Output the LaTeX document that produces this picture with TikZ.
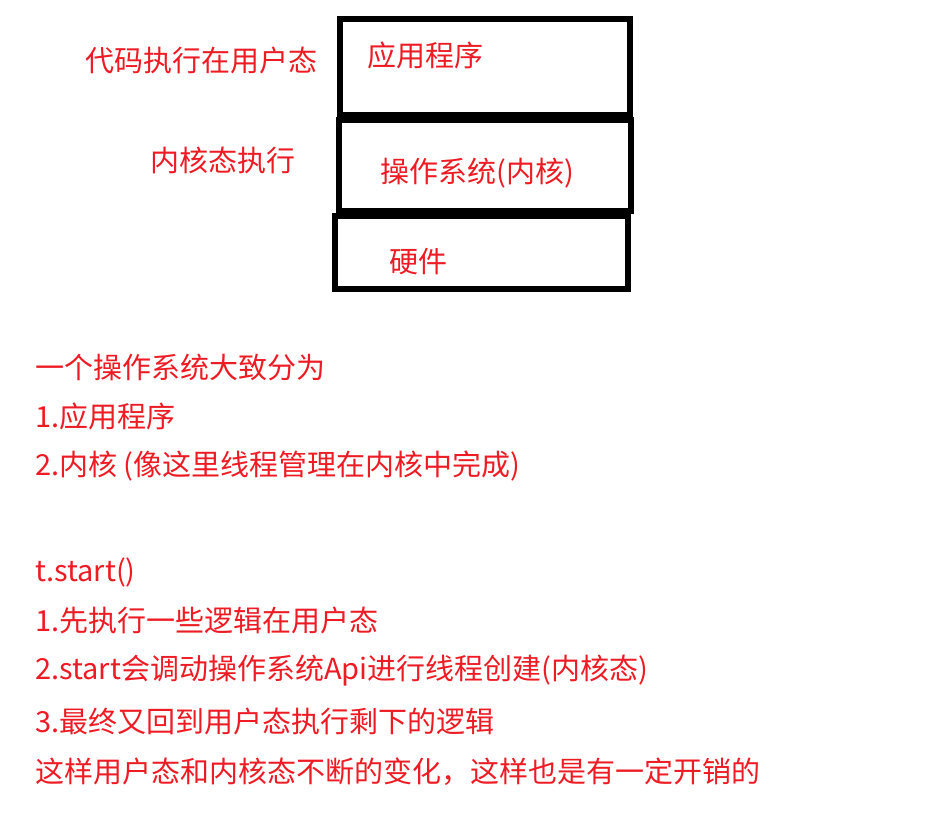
\documentclass[tikz,border=0pt]{standalone}
\usepackage{fontspec}
\setmainfont{Noto Sans CJK SC}
\definecolor{pred}{RGB}{237,28,36}
\tikzset{
  lbl/.style={anchor=west, inner sep=0pt, text=pred, font=\fontsize{21.75pt}{24pt}\selectfont},
  layer/.style={draw=black, line width=3.8pt}
}
\begin{document}
\begin{tikzpicture}[x=0.75pt,y=-0.75pt]
\useasboundingbox (0,0) rectangle (952,816);
% boxes
\draw[layer] (340,19) rectangle (630,115);
\draw[layer] (339,120) rectangle (631,211);
\draw[layer] (335,216) rectangle (628,289);
\node[lbl] (app) at (367,55) {应用程序};
\node[lbl] (os) at (380,173) {操作系统(内核)};
\node[lbl] (hw) at (389,262) {硬件};
\node[lbl] (user) at (85,60) {代码执行在用户态};
\node[lbl] (kern) at (150,160) {内核态执行};
% notes
\node[lbl] (n1) at (35,367) {一个操作系统大致分为};
\node[lbl] (n2) at (35,416) {1.应用程序};
\node[lbl] (n3) at (35,466) {2.内核 (像这里线程管理在内核中完成)};
\node[lbl] (n4) at (35,572) {t.start()};
\node[lbl] (n5) at (35,620) {1.先执行一些逻辑在用户态};
\node[lbl] (n6) at (35,671) {2.start会调动操作系统Api进行线程创建(内核态)};
\node[lbl] (n7) at (35,721) {3.最终又回到用户态执行剩下的逻辑};
\node[lbl] (n8) at (35,772) {这样用户态和内核态不断的变化，这样也是有一定开销的};
\end{tikzpicture}
\end{document}
